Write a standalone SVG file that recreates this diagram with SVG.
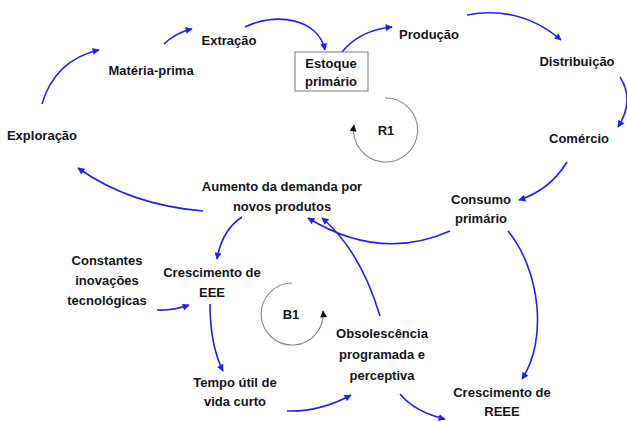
<svg xmlns="http://www.w3.org/2000/svg" width="627" height="421" viewBox="0 0 627 421">
<defs>
<marker id="ah" viewBox="0 0 10 10" refX="9" refY="5" markerWidth="9" markerHeight="7" markerUnits="userSpaceOnUse" orient="auto">
<path d="M0,0 L10,5 L0,10 Z" fill="#2020f0"/>
</marker>
<marker id="ahk" viewBox="0 0 10 10" refX="9" refY="5" markerWidth="9" markerHeight="7" markerUnits="userSpaceOnUse" orient="auto">
<path d="M0,0 L10,5 L0,10 Z" fill="#111"/>
</marker>
</defs>
<style>
text{font-family:"Liberation Sans",Arial,sans-serif;font-weight:bold;font-size:13px;fill:#151520;text-anchor:middle}
.c{fill:none;stroke:#2020f0;stroke-width:1.6;marker-end:url(#ah)}
.loop{fill:none;stroke:#8a8a8a;stroke-width:1.1;marker-end:url(#ahk)}
.box{fill:#fff;stroke:#777;stroke-width:1}
</style>
<rect width="627" height="421" fill="#fff"/>
<g id="connectors">
<path class="c" d="M42,104 Q55,60 99,50"/>
<path class="c" d="M164,44 Q175,33 192,29"/>
<path class="c" d="M245,27 C275,12 318,18 325,50"/>
<path class="c" d="M342,52 Q360,30 392,27"/>
<path class="c" d="M467,15 Q520,5 561,40"/>
<path class="c" d="M620,77 Q635,100 618,127"/>
<path class="c" d="M567,162 Q550,190 519,200"/>
<path class="c" d="M450,231 Q380,262 308,218"/>
<path class="c" d="M380,316 Q360,250 322,218"/>
<path class="c" d="M203,211 Q130,205 78,168"/>
<path class="c" d="M242,217 Q222,230 217,259"/>
<path class="c" d="M157,310 Q172,311 189,305"/>
<path class="c" d="M210,304 Q210,345 223,371"/>
<path class="c" d="M287,411 Q320,412 351,395"/>
<path class="c" d="M400,394 Q415,412 445,419"/>
<path class="c" d="M508,231 C540,270 548,340 522,379"/>
</g>
<g id="loopR1">
<path class="loop" d="M385,98 A32,32 0 1 1 354,125"/>
<text x="386" y="135">R1</text>
</g>
<g id="loopB1">
<path class="loop" d="M292,283 A31,31 0 1 0 323,311"/>
<text x="291" y="319">B1</text>
</g>
<g id="exploracao"><text x="42" y="140">Exploração</text></g>
<g id="materia-prima"><text x="151" y="75">Matéria-prima</text></g>
<g id="extracao"><text x="229" y="45">Extração</text></g>
<g id="estoque">
<rect class="box" x="295" y="52" width="73" height="39"/>
<text x="331" y="68">Estoque</text>
<text x="331" y="86">primário</text>
</g>
<g id="producao"><text x="429" y="39">Produção</text></g>
<g id="distribuicao"><text x="577" y="66">Distribuição</text></g>
<g id="comercio"><text x="579" y="143">Comércio</text></g>
<g id="consumo">
<text x="481" y="204">Consumo</text>
<text x="481" y="223">primário</text>
</g>
<g id="aumento">
<text x="282" y="191">Aumento da demanda por</text>
<text x="282" y="211">novos produtos</text>
</g>
<g id="constantes">
<text x="107" y="265">Constantes</text>
<text x="107" y="285">inovações</text>
<text x="107" y="305">tecnológicas</text>
</g>
<g id="crescimento-eee">
<text x="212" y="277">Crescimento de</text>
<text x="212" y="297">EEE</text>
</g>
<g id="tempo">
<text x="235" y="387">Tempo útil de</text>
<text x="235" y="406">vida curto</text>
</g>
<g id="obsolescencia">
<text x="382" y="338">Obsolescência</text>
<text x="382" y="359">programada e</text>
<text x="382" y="380">perceptiva</text>
</g>
<g id="crescimento-reee">
<text x="502" y="397">Crescimento de</text>
<text x="502" y="416">REEE</text>
</g>
</svg>
